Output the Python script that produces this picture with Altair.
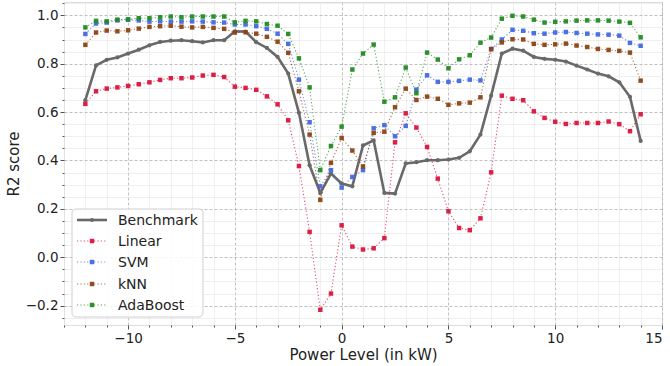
import altair as alt
import pandas as pd

x_vals = [-12 + 0.5 * i for i in range(53)]

benchmark = [0.649, 0.793, 0.816, 0.826, 0.842, 0.858, 0.876, 0.890, 0.895, 0.897, 0.893, 0.888, 0.897, 0.897,
             0.934, 0.933, 0.889, 0.865, 0.828, 0.759, 0.597, 0.380, 0.266, 0.346, 0.305,
             0.293, 0.462, 0.483, 0.266, 0.263, 0.388, 0.393, 0.401, 0.401,
             0.404, 0.411, 0.438, 0.507, 0.668, 0.842, 0.862, 0.854, 0.828, 0.820, 0.816, 0.809, 0.792, 0.776,
             0.759, 0.748, 0.723, 0.663, 0.481]
linear = [0.634, 0.686, 0.697, 0.702, 0.708, 0.715, 0.723, 0.733, 0.740, 0.740, 0.743, 0.751, 0.754, 0.745,
          0.705, 0.700, 0.692, 0.665, 0.632, 0.566, 0.377, 0.105, -0.217, -0.150, 0.132,
          0.044, 0.032, 0.037, 0.079, 0.475, 0.595, 0.536, 0.456, 0.325,
          0.190, 0.121, 0.112, 0.161, 0.351, 0.668, 0.655, 0.649, 0.603, 0.576, 0.560, 0.551, 0.555, 0.555,
          0.555, 0.561, 0.550, 0.521, 0.591]
svm = [0.923, 0.966, 0.970, 0.979, 0.982, 0.979, 0.974, 0.975, 0.974, 0.974, 0.975, 0.974, 0.971, 0.970,
       0.962, 0.962, 0.955, 0.944, 0.924, 0.882, 0.734, 0.558, 0.293, 0.360, 0.288,
       0.332, 0.360, 0.533, 0.546, 0.500, 0.543, 0.693, 0.752, 0.725,
       0.725, 0.729, 0.734, 0.731, 0.861, 0.900, 0.940, 0.936, 0.926, 0.924, 0.929, 0.931, 0.927, 0.924,
       0.921, 0.920, 0.916, 0.886, 0.874]
knn = [0.878, 0.929, 0.937, 0.934, 0.938, 0.945, 0.952, 0.955, 0.957, 0.953, 0.950, 0.952, 0.948, 0.944,
       0.929, 0.930, 0.924, 0.911, 0.891, 0.845, 0.686, 0.507, 0.237, 0.390, 0.493,
       0.441, 0.375, 0.514, 0.519, 0.620, 0.697, 0.650, 0.664, 0.655,
       0.630, 0.636, 0.639, 0.661, 0.860, 0.888, 0.901, 0.900, 0.882, 0.878, 0.880, 0.883, 0.875, 0.869,
       0.861, 0.857, 0.853, 0.846, 0.730]
adaboost = [0.950, 0.977, 0.975, 0.982, 0.983, 0.988, 0.988, 0.992, 0.995, 0.992, 0.995, 0.995, 0.995, 0.995,
            0.971, 0.977, 0.975, 0.964, 0.957, 0.923, 0.822, 0.702, 0.360, 0.460, 0.540,
            0.776, 0.842, 0.879, 0.643, 0.661, 0.784, 0.678, 0.846, 0.817,
            0.781, 0.818, 0.835, 0.887, 0.908, 0.986, 0.998, 0.995, 0.982, 0.970, 0.973, 0.975, 0.978, 0.979,
            0.979, 0.978, 0.974, 0.969, 0.909]

series_names = ["Benchmark", "Linear", "SVM", "kNN", "AdaBoost"]
series_colors = ["#696969", "#DC143C", "#4169E1", "#8B4513", "#228B22"]
series_values = [benchmark, linear, svm, knn, adaboost]

x_ticks = list(range(-13, 16))
y_ticks = [round(-0.25 + 0.05 * k, 2) for k in range(27)]

FONT = "DejaVu Sans"
X_DOMAIN = [-13, 15]
Y_DOMAIN = [-0.28, 1.055]

XMAJ = "abs(datum.value % 5) < 0.001"
YMAJ = "abs(round(datum.value * 100) % 20) == 0"

x_axis = alt.Axis(
    values=x_ticks,
    tickCount=200,
    labelExpr="abs(datum.value % 5) < 0.001 ? format(datum.value, 'd') : ''",
    labelOverlap=False,
    title="Power Level (in kW)",
    grid=True,
    gridColor={"condition": {"test": XMAJ, "value": "#b0b0b0"}, "value": "#e6e6e6"},
    gridDash={"condition": {"test": XMAJ, "value": [3, 2]}, "value": [1, 0]},
    gridWidth=0.8,
    tickSize={"condition": {"test": XMAJ, "value": 4}, "value": 2},
    tickColor="#555555",
    domain=False,
    labelFontSize=13.5,
    labelFont=FONT,
    labelColor="#222222",
    labelPadding=2,
    titleFont=FONT,
    titleFontSize=15,
    titleFontWeight="normal",
    titleColor="#222222",
    titlePadding=3,
)
y_axis = alt.Axis(
    values=y_ticks,
    tickCount=200,
    labelExpr="abs(round(datum.value * 100) % 20) == 0 ? format(datum.value, '.1f') : ''",
    labelOverlap=False,
    title="R2 score",
    grid=True,
    gridColor={"condition": {"test": YMAJ, "value": "#b0b0b0"}, "value": "#e6e6e6"},
    gridDash={"condition": {"test": YMAJ, "value": [3, 2]}, "value": [1, 0]},
    gridWidth=0.8,
    tickSize={"condition": {"test": YMAJ, "value": 4}, "value": 2},
    tickColor="#555555",
    domain=False,
    labelFontSize=13.5,
    labelFont=FONT,
    labelColor="#222222",
    labelPadding=2,
    titleFont=FONT,
    titleFontSize=15,
    titleFontWeight="normal",
    titleColor="#222222",
    titlePadding=4,
)

rows = []
for name, vals in zip(series_names, series_values):
    for xv, yv in zip(x_vals, vals):
        rows.append({"series": name, "x": xv, "y": yv})
df = pd.DataFrame(rows)

xenc = alt.X("x:Q", scale=alt.Scale(domain=X_DOMAIN, nice=False, zero=False), axis=x_axis)
yenc = alt.Y("y:Q", scale=alt.Scale(domain=Y_DOMAIN, nice=False, zero=False), axis=y_axis)

layers = []
bdf = df[df.series == "Benchmark"]
layers.append(alt.Chart(bdf).mark_line(color=series_colors[0], strokeWidth=2.6).encode(x=xenc, y=yenc))
layers.append(alt.Chart(bdf).mark_circle(color=series_colors[0], size=18, opacity=1).encode(x="x:Q", y="y:Q"))
for name, col in zip(series_names[1:], series_colors[1:]):
    sdf = df[df.series == name]
    layers.append(alt.Chart(sdf).mark_line(color=col, strokeWidth=1.1, strokeDash=[1.2, 2.2],
                                           strokeOpacity=0.75).encode(x="x:Q", y="y:Q"))
    layers.append(alt.Chart(sdf).mark_square(color=col, size=20, opacity=0.95).encode(x="x:Q", y="y:Q"))

one = pd.DataFrame({"a": [0]})
layers.append(alt.Chart(one).mark_rect(fill="white", fillOpacity=0.85, stroke="#d0d0d0", strokeWidth=1,
                                       cornerRadius=4).encode(
    x=alt.value(8), x2=alt.value(139), y=alt.value(207), y2=alt.value(315)))
leg_y = [218, 239, 260, 282, 303]
for i, (name, col) in enumerate(zip(series_names, series_colors)):
    ldf = pd.DataFrame({"label": [name]})
    if i == 0:
        layers.append(alt.Chart(ldf).mark_rule(color=col, strokeWidth=2.6).encode(
            x=alt.value(13), x2=alt.value(43), y=alt.value(leg_y[i])))
        layers.append(alt.Chart(ldf).mark_circle(color=col, size=18, opacity=1).encode(
            x=alt.value(28), y=alt.value(leg_y[i])))
    else:
        layers.append(alt.Chart(ldf).mark_rule(color=col, strokeWidth=1.1, strokeDash=[1.2, 2.2],
                                               strokeOpacity=0.75).encode(
            x=alt.value(13), x2=alt.value(43), y=alt.value(leg_y[i])))
        layers.append(alt.Chart(ldf).mark_square(color=col, size=20, opacity=0.95).encode(
            x=alt.value(28), y=alt.value(leg_y[i])))
    layers.append(alt.Chart(ldf).mark_text(align="left", baseline="middle", font=FONT, fontSize=14,
                                           color="#222222").encode(
        x=alt.value(54), y=alt.value(leg_y[i] + 1), text="label:N"))

chart = alt.layer(*layers).properties(
    width=598, height=323,
    autosize=alt.AutoSizeParams(type="none"),
    padding={"left": 64, "top": 2, "right": 8, "bottom": 41},
).configure_view(stroke="#888888", strokeWidth=1).configure(background="white")

chart.save("out.html", embed_options={"renderer": "svg", "actions": False})
